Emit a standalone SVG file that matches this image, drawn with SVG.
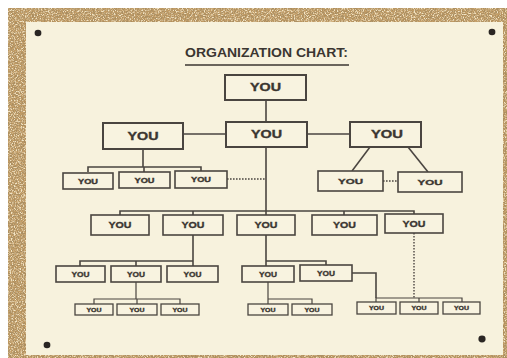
<svg xmlns="http://www.w3.org/2000/svg" width="507" height="358" viewBox="0 0 507 358">
  <defs>
    <filter id="corkDark" x="0" y="0" width="100%" height="100%">
      <feTurbulence type="fractalNoise" baseFrequency="0.9" numOctaves="3" seed="7" result="n"/>
      <feColorMatrix in="n" type="matrix" values="0 0 0 0 0.40  0 0 0 0 0.27  0 0 0 0 0.12  4.2 0 0 0 -1.75"/>
    </filter>
    <filter id="corkLight" x="0" y="0" width="100%" height="100%">
      <feTurbulence type="fractalNoise" baseFrequency="0.7" numOctaves="2" seed="19" result="n"/>
      <feColorMatrix in="n" type="matrix" values="0 0 0 0 0.90  0 0 0 0 0.78  0 0 0 0 0.56  0 4.2 0 0 -1.8"/>
    </filter>
    <style>
      .box { fill: #f8f3e0; stroke: #4a4540; }
      .b1 { stroke-width: 2; }
      .b2 { stroke-width: 1.6; }
      .b3 { stroke-width: 1.3; }
      .lbl { font-family: "Liberation Sans", Arial, sans-serif; font-weight: bold; fill: #3b3631; stroke: #3b3631; stroke-width: 0.35; text-anchor: middle; }
      .link { fill: none; stroke: #4a4540; stroke-width: 1.6; }
      .thin { stroke-width: 1.2; }
      .dot { fill: none; stroke: #4a4540; stroke-width: 1.4; stroke-dasharray: 1.6 1.4; }
      .title { font-family: "Liberation Sans", Arial, sans-serif; font-weight: bold; font-size: 12.5px; fill: #3b3631; text-anchor: middle; }
      .pin { fill: #2a2623; }
    </style>
  </defs>

  <!-- backdrop: white margin, cork board, paper sheet -->
  <rect x="0" y="0" width="507" height="358" fill="#ffffff"/>
  <rect x="8" y="8" width="499" height="350" fill="#c39c64"/>
  <rect x="8" y="8" width="499" height="350" filter="url(#corkLight)"/>
  <rect x="8" y="8" width="499" height="350" filter="url(#corkDark)"/>
  <rect x="26" y="22" width="477" height="333" fill="#f7f2dd"/>

  <!-- pins -->
  <g id="pins">
    <ellipse class="pin" cx="38" cy="33" rx="3.4" ry="3.2"/>
    <ellipse class="pin" cx="492" cy="32" rx="3.4" ry="3.2"/>
    <ellipse class="pin" cx="47" cy="345" rx="3.4" ry="3.2"/>
    <ellipse class="pin" cx="482" cy="339" rx="3.6" ry="3.4"/>
  </g>

  <!-- heading -->
  <g id="heading">
    <text class="title" x="266.5" y="57" textLength="163" lengthAdjust="spacingAndGlyphs">ORGANIZATION CHART:</text>
    <line x1="185" y1="65" x2="349" y2="65" stroke="#3b3631" stroke-width="1.5"/>
  </g>

  <!-- connectors -->
  <g id="connectors">
    <!-- top to centre, centre spine -->
    <line class="link" x1="266" y1="100" x2="266" y2="122"/>
    <line class="link" x1="183" y1="134" x2="226" y2="134"/>
    <line class="link" x1="307" y1="134" x2="350" y2="134"/>
    <line class="link" x1="266" y1="147" x2="266" y2="215"/>

    <!-- left unit -->
    <path class="link" d="M143 149 V167 M88 172 V167 H201 V171 M144 167 V172"/>
    <line class="dot" x1="227" y1="179" x2="266" y2="179"/>

    <!-- right unit -->
    <line class="link" x1="370" y1="147" x2="352" y2="171"/>
    <line class="link" x1="408" y1="147" x2="428" y2="172"/>
    <line class="dot" x1="383" y1="181" x2="398" y2="181"/>

    <!-- third row bus -->
    <path class="link" d="M120 215 V211 H414 V214 M193 211 V215 M344 211 V215"/>

    <!-- left branch below third row -->
    <path class="link" d="M193 235 V261 M80 266 V261 H193 V266 M136 261 V266"/>
    <path class="link thin" d="M136 282 V299 M94 304 V299 H180 V304 M137 299 V304"/>

    <!-- middle branch -->
    <path class="link" d="M266 235 V266 M266 261 H326 V265"/>
    <path class="link thin" d="M268 282 V299 H312 V304 M268 299 V304"/>

    <!-- right branch -->
    <path class="link" d="M352 273 H376 V298"/>
    <path class="link thin" d="M376 302 V298 H462 V302 M419 298 V302"/>
    <line class="dot" x1="414" y1="233" x2="414" y2="298"/>
  </g>

  <!-- level 0 -->
  <g id="n-top"><rect class="box b1" x="225" y="75" width="81" height="25"/><text class="lbl" x="265.5" y="91.3" font-size="10.5" textLength="31" lengthAdjust="spacingAndGlyphs">YOU</text></g>

  <!-- level 1 -->
  <g id="n-left"><rect class="box b1" x="103" y="123" width="80" height="26"/><text class="lbl" x="143" y="139.8" font-size="10.5" textLength="31" lengthAdjust="spacingAndGlyphs">YOU</text></g>
  <g id="n-centre"><rect class="box b1" x="226" y="122" width="81" height="25"/><text class="lbl" x="266.5" y="138.3" font-size="10.5" textLength="31" lengthAdjust="spacingAndGlyphs">YOU</text></g>
  <g id="n-right"><rect class="box b1" x="350" y="122" width="71" height="25"/><text class="lbl" x="387" y="138.3" font-size="10.5" textLength="32" lengthAdjust="spacingAndGlyphs">YOU</text></g>

  <!-- left unit members -->
  <g id="n-left-1"><rect class="box b2" x="63" y="173" width="50" height="16"/><text class="lbl" x="88" y="183.5" font-size="6.8" textLength="20" lengthAdjust="spacingAndGlyphs">YOU</text></g>
  <g id="n-left-2"><rect class="box b2" x="119" y="172" width="51" height="16"/><text class="lbl" x="144.5" y="182.5" font-size="6.8" textLength="20" lengthAdjust="spacingAndGlyphs">YOU</text></g>
  <g id="n-left-3"><rect class="box b2" x="175" y="171" width="52" height="17"/><text class="lbl" x="201" y="182" font-size="6.8" textLength="20" lengthAdjust="spacingAndGlyphs">YOU</text></g>

  <!-- right unit members -->
  <g id="n-right-1"><rect class="box b2" x="318" y="171" width="65" height="20"/><text class="lbl" x="350.5" y="183.8" font-size="7.8" textLength="25" lengthAdjust="spacingAndGlyphs">YOU</text></g>
  <g id="n-right-2"><rect class="box b2" x="398" y="172" width="64" height="20"/><text class="lbl" x="430" y="184.8" font-size="7.8" textLength="25" lengthAdjust="spacingAndGlyphs">YOU</text></g>

  <!-- third row -->
  <g id="n-r3-1"><rect class="box b2" x="91" y="215" width="58" height="20"/><text class="lbl" x="120" y="228.2" font-size="8.8" textLength="23" lengthAdjust="spacingAndGlyphs">YOU</text></g>
  <g id="n-r3-2"><rect class="box b2" x="163" y="215" width="60" height="20"/><text class="lbl" x="193" y="228.2" font-size="8.8" textLength="23" lengthAdjust="spacingAndGlyphs">YOU</text></g>
  <g id="n-r3-3"><rect class="box b2" x="237" y="215" width="58" height="20"/><text class="lbl" x="266" y="228.2" font-size="8.8" textLength="23" lengthAdjust="spacingAndGlyphs">YOU</text></g>
  <g id="n-r3-4"><rect class="box b2" x="312" y="215" width="65" height="20"/><text class="lbl" x="344.5" y="228.2" font-size="8.8" textLength="23" lengthAdjust="spacingAndGlyphs">YOU</text></g>
  <g id="n-r3-5"><rect class="box b2" x="385" y="214" width="58" height="19"/><text class="lbl" x="414" y="226.8" font-size="8.8" textLength="23" lengthAdjust="spacingAndGlyphs">YOU</text></g>

  <!-- fourth row -->
  <g id="n-r4-1"><rect class="box b2" x="56" y="266" width="49" height="16"/><text class="lbl" x="80.5" y="276.6" font-size="7.3" textLength="18" lengthAdjust="spacingAndGlyphs">YOU</text></g>
  <g id="n-r4-2"><rect class="box b2" x="111" y="266" width="50" height="16"/><text class="lbl" x="136" y="276.6" font-size="7.3" textLength="18" lengthAdjust="spacingAndGlyphs">YOU</text></g>
  <g id="n-r4-3"><rect class="box b2" x="167" y="266" width="51" height="16"/><text class="lbl" x="192.5" y="276.6" font-size="7.3" textLength="18" lengthAdjust="spacingAndGlyphs">YOU</text></g>
  <g id="n-r4-4"><rect class="box b2" x="242" y="266" width="52" height="16"/><text class="lbl" x="268" y="276.6" font-size="7.3" textLength="18" lengthAdjust="spacingAndGlyphs">YOU</text></g>
  <g id="n-r4-5"><rect class="box b2" x="300" y="265" width="52" height="16"/><text class="lbl" x="326" y="275.6" font-size="7.3" textLength="18" lengthAdjust="spacingAndGlyphs">YOU</text></g>

  <!-- fifth row -->
  <g id="n-r5-1"><rect class="box b3" x="75" y="304" width="38" height="11"/><text class="lbl" x="94" y="311.6" font-size="5.6" textLength="15" lengthAdjust="spacingAndGlyphs">YOU</text></g>
  <g id="n-r5-2"><rect class="box b3" x="117" y="304" width="40" height="11"/><text class="lbl" x="137" y="311.6" font-size="5.6" textLength="15" lengthAdjust="spacingAndGlyphs">YOU</text></g>
  <g id="n-r5-3"><rect class="box b3" x="161" y="304" width="38" height="11"/><text class="lbl" x="180" y="311.6" font-size="5.6" textLength="15" lengthAdjust="spacingAndGlyphs">YOU</text></g>
  <g id="n-r5-4"><rect class="box b3" x="248" y="304" width="40" height="11"/><text class="lbl" x="268" y="311.6" font-size="5.6" textLength="15" lengthAdjust="spacingAndGlyphs">YOU</text></g>
  <g id="n-r5-5"><rect class="box b3" x="292" y="304" width="40" height="11"/><text class="lbl" x="312" y="311.6" font-size="5.6" textLength="15" lengthAdjust="spacingAndGlyphs">YOU</text></g>
  <g id="n-r5-6"><rect class="box b3" x="357" y="302" width="39" height="12"/><text class="lbl" x="376.5" y="310.1" font-size="5.6" textLength="15" lengthAdjust="spacingAndGlyphs">YOU</text></g>
  <g id="n-r5-7"><rect class="box b3" x="400" y="302" width="38" height="12"/><text class="lbl" x="419" y="310.1" font-size="5.6" textLength="15" lengthAdjust="spacingAndGlyphs">YOU</text></g>
  <g id="n-r5-8"><rect class="box b3" x="443" y="302" width="37" height="12"/><text class="lbl" x="461.5" y="310.1" font-size="5.6" textLength="15" lengthAdjust="spacingAndGlyphs">YOU</text></g>
</svg>
